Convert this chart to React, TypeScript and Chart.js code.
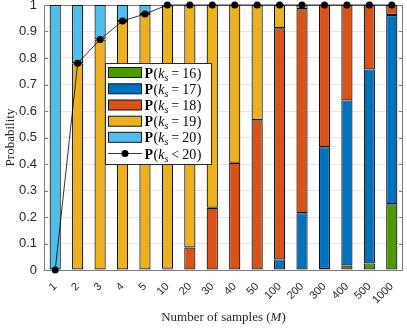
import React, { useEffect, useRef } from 'react';
import { Chart, registerables } from 'chart.js';
Chart.register(...registerables);

const categories = ['1', '2', '3', '4', '5', '10', '20', '30', '40', '50', '100', '200', '300', '400', '500', '1000'];
const p16 = [0, 0, 0, 0, 0, 0, 0, 0, 0, 0, 0, 0, 0.004, 0.017, 0.025, 0.248];
const p17 = [0, 0, 0, 0, 0, 0, 0, 0, 0, 0, 0.04, 0.214, 0.459, 0.623, 0.732, 0.714];
const p18 = [0, 0, 0, 0, 0, 0.005, 0.085, 0.235, 0.405, 0.565, 0.872, 0.77, 0.537, 0.36, 0.243, 0.038];
const p19 = [0, 0.78, 0.87, 0.94, 0.966, 0.995, 0.915, 0.765, 0.595, 0.435, 0.088, 0.016, 0, 0, 0, 0];
const p20 = [1, 0.22, 0.13, 0.06, 0.034, 0, 0, 0, 0, 0, 0, 0, 0, 0, 0, 0];
const pLess20 = [0, 0.78, 0.87, 0.94, 0.966, 1, 1, 1, 1, 1, 1, 1, 1, 1, 1, 1];
const yTickValues = [0, 0.1, 0.2, 0.3, 0.4, 0.5, 0.6, 0.7, 0.8, 0.9, 1];
const legendNums = ['16', '17', '18', '19', '20'];

const COLORS = ['#4d9900', '#0072bd', '#d95319', '#edb120', '#4dbeee'];
const EDGE = '#111111';
const SERIF = '"Liberation Serif", "DejaVu Serif", serif';

const nz = (a: number[]) => a.map((v) => (v === 0 ? null : v));

const drawPlugin = {
  id: 'customDraw',
  beforeDatasetsDraw(chart: any) {
    const { ctx, chartArea: a, scales } = chart;
    const y = scales.y;
    ctx.save();
    ctx.strokeStyle = '#7a7a7a';
    ctx.lineWidth = 1;
    for (const v of yTickValues) {
      const py = Math.round(y.getPixelForValue(v)) + 0.5;
      ctx.beginPath();
      ctx.moveTo(a.left, py);
      ctx.lineTo(a.left + 4, py);
      ctx.moveTo(a.right, py);
      ctx.lineTo(a.right - 4, py);
      ctx.stroke();
    }
    ctx.strokeRect(Math.round(a.left) + 0.5, Math.round(a.top) + 0.5, Math.round(a.right - a.left) - 1, Math.round(a.bottom - a.top));
    ctx.restore();
  },
  afterDraw(chart: any) {
    const { ctx, chartArea: a } = chart;
    ctx.save();
    ctx.fillStyle = '#262626';
    ctx.textBaseline = 'middle';
    // y title
    ctx.save();
    ctx.translate(11, (a.top + a.bottom) / 2);
    ctx.rotate(-Math.PI / 2);
    ctx.font = `13px ${SERIF}`;
    ctx.textAlign = 'center';
    ctx.fillText('Probability', 0, 0);
    ctx.restore();
    // x title with italic M
    {
      const cx = (a.left + a.right) / 2;
      const ty = 318;
      const parts: [string, string][] = [
        ['Number of samples (', `13px ${SERIF}`],
        ['M', `italic 13px ${SERIF}`],
        [')', `13px ${SERIF}`],
      ];
      let total = 0;
      for (const [t, f] of parts) { ctx.font = f; total += ctx.measureText(t).width; }
      let x = cx - total / 2;
      ctx.textAlign = 'left';
      for (const [t, f] of parts) { ctx.font = f; ctx.fillText(t, x, ty); x += ctx.measureText(t).width; }
    }
    // Legend
    const lx = 105, ly = 63, lw = 106, lh = 101;
    ctx.fillStyle = '#ffffff';
    ctx.fillRect(lx, ly, lw, lh);
    ctx.strokeStyle = '#262626';
    ctx.lineWidth = 1;
    ctx.strokeRect(lx + 0.5, ly + 0.5, lw, lh);
    const rowY = [72.5, 88.8, 105, 121.2, 137.3, 153.5];
    const drawLabel = (x: number, yy: number, rel: string, num: string) => {
      ctx.fillStyle = '#000';
      ctx.textAlign = 'left';
      ctx.textBaseline = 'alphabetic';
      const base = yy + 5;
      const seg = (t: string, f: string, dy = 0, extra = 0) => {
        ctx.font = f;
        ctx.fillText(t, x, base + dy);
        x += ctx.measureText(t).width + extra;
      };
      seg('P', `bold 14px ${SERIF}`, 0, 0.5);
      seg('(', `14px ${SERIF}`);
      seg('k', `italic 14px ${SERIF}`);
      seg('s', `italic 10px ${SERIF}`, 3, 3);
      seg(rel, `14px ${SERIF}`, 0, 3);
      seg(num, `14px ${SERIF}`, 0, 0.5);
      seg(')', `14px ${SERIF}`);
    };
    for (let i = 0; i < 5; i++) {
      const ry = rowY[i];
      ctx.fillStyle = COLORS[i];
      ctx.fillRect(108.5, ry - 5, 33, 10);
      ctx.strokeStyle = EDGE;
      ctx.strokeRect(108.5, ry - 5, 33, 10);
      drawLabel(144.5, ry, '=', legendNums[i]);
    }
    {
      const ry = rowY[5];
      ctx.strokeStyle = '#000';
      ctx.lineWidth = 0.8;
      ctx.beginPath();
      ctx.moveTo(108, ry);
      ctx.lineTo(142, ry);
      ctx.stroke();
      ctx.fillStyle = '#000';
      ctx.beginPath();
      ctx.arc(125, ry, 3.5, 0, Math.PI * 2);
      ctx.fill();
      drawLabel(144.5, ry, '<', '20');
    }
    ctx.restore();
  },
};

export default function App() {
  const ref = useRef<HTMLCanvasElement>(null);
  useEffect(() => {
    const barDs = (label: string, data: number[], color: string) => ({
      type: 'bar' as const,
      label,
      data: nz(data) as any,
      backgroundColor: color,
      borderColor: EDGE,
      borderWidth: 1.2,
      borderSkipped: false,
      stack: 'bars',
      order: 1,
      barPercentage: 1,
      categoryPercentage: 0.5,
    });
    const chart = new Chart(ref.current!, {
      type: 'bar',
      data: {
        labels: categories,
        datasets: [
          barDs('P(k_s = 16)', p16, COLORS[0]),
          barDs('P(k_s = 17)', p17, COLORS[1]),
          barDs('P(k_s = 18)', p18, COLORS[2]),
          barDs('P(k_s = 19)', p19, COLORS[3]),
          barDs('P(k_s = 20)', p20, COLORS[4]),
          {
            type: 'line' as const,
            label: 'P(k_s < 20)',
            data: pLess20,
            borderColor: '#000',
            borderWidth: 0.8,
            backgroundColor: '#000',
            pointRadius: 3.5,
            pointBackgroundColor: '#000',
            pointBorderWidth: 0,
            stack: 'line',
            order: 0,
            clip: false as any,
            tension: 0,
          } as any,
        ],
      },
      options: {
        animation: false,
        responsive: true,
        maintainAspectRatio: false,
        layout: { padding: { left: 0, right: 3, top: 5, bottom: 0 } },
        plugins: { legend: { display: false }, tooltip: { enabled: false } },
        scales: {
          x: {
            stacked: true,
            grid: { display: false },
            border: { display: false },
            ticks: {
              autoSkip: false,
              minRotation: 45,
              maxRotation: 45,
              padding: 2,
              color: '#262626',
              font: { family: '"Liberation Sans", Arial, sans-serif', size: 11 },
            },
            afterFit: (s: any) => { s.height = 58; s.paddingLeft = 0; s.paddingRight = 0; },
          },
          y: {
            stacked: true,
            min: 0,
            max: 1,
            grid: { color: '#e6e6e6', drawTicks: false },
            border: { display: false },
            ticks: {
              stepSize: 0.1,
              padding: 7,
              color: '#262626',
              font: { family: '"Liberation Sans", Arial, sans-serif', size: 13 },
              callback: (v: any) => String(Math.round(Number(v) * 10) / 10),
            },
            afterFit: (s: any) => { s.width = 44; s.paddingTop = 0; s.paddingBottom = 0; },
          },
        },
      },
      plugins: [drawPlugin],
    });
    return () => chart.destroy();
  }, []);
  return (
    <div style={{ position: 'fixed', left: 0, top: 0, width: 407, height: 328, background: '#fff' }}>
      <canvas ref={ref} />
    </div>
  );
}
